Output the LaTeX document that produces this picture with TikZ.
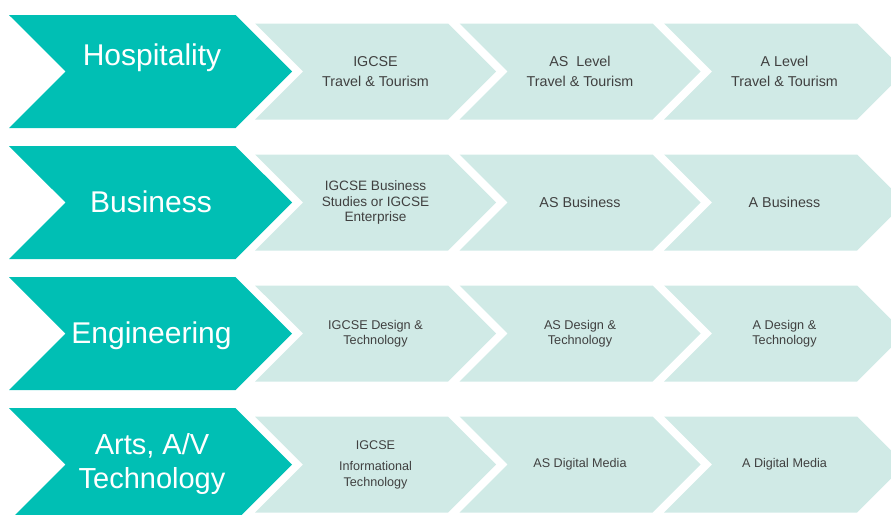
\documentclass[tikz,border=0pt]{standalone}
\usepackage{fontspec}
\setmainfont{Liberation Sans}
\usepackage{tikz}
\usetikzlibrary{shapes.symbols}
\definecolor{tealhead}{RGB}{0,191,180}
\definecolor{mintstage}{RGB}{208,234,230}
\definecolor{stagegray}{RGB}{64,64,64}
\tikzset{
  pathway/.style={signal, signal from=west, signal to=east, fill=tealhead,
    minimum width=283pt, minimum height=113pt, inner sep=0pt},
  stage/.style={signal, signal from=west, signal to=east, fill=mintstage,
    minimum width=241pt, minimum height=96pt, inner sep=0pt,
    text=stagegray, align=center, font=\fontsize{14.3}{16}\selectfont},
  headtxt/.style={text=white, align=center, font=\fontsize{30}{34}\selectfont}
}
\def\rowgap{131}

\begin{document}
\begin{tikzpicture}[x=1pt,y=-1pt]
    \useasboundingbox (0,0) rectangle (891,514);
    \clip (0,0) rectangle (891,514);
    % hospitality
    \node[pathway] (hosp) at (150.5,71.5) {};
    \node[headtxt, anchor=base] (hosptxt) at (152,65) {Hospitality};
    \node[stage] (hosp1) at (375.5,71.5) {IGCSE\\[4pt]Travel \& Tourism};
    \node[stage] (hosp2) at (580,71.5) {AS\ \ Level\\[4pt]Travel \& Tourism};
    \node[stage] (hosp3) at (784.5,71.5) {A Level\\[4pt]Travel \& Tourism};
    % business
    \node[pathway] (bus) at (150.5,71.5+\rowgap) {};
    \node[headtxt, anchor=base] (bustxt) at (151,212) {Business};
    \node[stage, font=\fontsize{13.6}{15.5}\selectfont] (bus1) at (375.5,71.5+\rowgap)
        {IGCSE Business\\Studies or IGCSE\\Enterprise};
    \node[stage] (bus2) at (580,71.5+\rowgap) {AS Business};
    \node[stage] (bus3) at (784.5,71.5+\rowgap) {A Business};
    % engineering
    \node[pathway] (eng) at (150.5,71.5+2*\rowgap) {};
    \node[headtxt, anchor=base] (engtxt) at (151.5,343) {Engineering};
    \node[stage, font=\fontsize{12.7}{15}\selectfont] (eng1) at (375.5,71.5+2*\rowgap)
        {IGCSE Design \&\\Technology};
    \node[stage, font=\fontsize{12.7}{15}\selectfont] (eng2) at (580,71.5+2*\rowgap)
        {AS Design \&\\Technology};
    \node[stage, font=\fontsize{12.7}{15}\selectfont] (eng3) at (784.5,71.5+2*\rowgap)
        {A Design \&\\Technology};
    % arts
    \node[pathway] (arts) at (150.5,71.5+3*\rowgap) {};
    \node[headtxt, font=\fontsize{29}{34}\selectfont] (artstxt) at (152,464) {Arts, A/V\\Technology};
    \node[stage, font=\fontsize{12.6}{16}\selectfont] (arts1) at (375.5,71.5+3*\rowgap)
        {IGCSE\\[5pt]Informational\\Technology};
    \node[stage, font=\fontsize{12.6}{16}\selectfont] (arts2) at (580,71.5+3*\rowgap) {AS Digital Media};
    \node[stage, font=\fontsize{12.6}{16}\selectfont] (arts3) at (784.5,71.5+3*\rowgap) {A Digital Media};
\end{tikzpicture}
\end{document}
